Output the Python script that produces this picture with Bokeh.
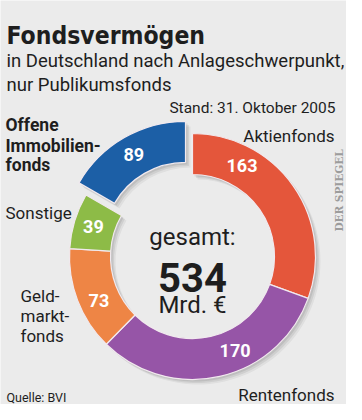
import math
from bokeh.plotting import figure
from bokeh.models import Range1d, ColumnDataSource
from bokeh.core.properties import value
from bokeh.embed import file_html
from bokeh.resources import INLINE

# ---- data ----
categories = ["Aktienfonds", "Rentenfonds", "Geldmarktfonds", "Sonstige", "Offene Immobilienfonds"]
values = [163, 170, 73, 39, 89]
total_label = "534"
title = "Fondsvermögen"
subtitle = ["in Deutschland nach Anlageschwerpunkt,", "nur Publikumsfonds"]
stand = "Stand: 31. Oktober 2005"
source_txt = "Quelle: BVI"

# ---- style ----
colors = ["#e4563b", "#9655a7", "#ee8545", "#8dbb47", "#1c5fa6"]
explode = [0, 0, 0, 0, 14]
label_frac = [0.26, 0.40, 0.41, 0.5, 0.5]
BG = "#ebebeb"
TXT = "#1e1e1e"
FONT = "Roboto"
W, H = 346, 404
OX, OY = 8, 8

def X(rx):
    return rx - OX

def Y(ry):
    return H - (ry - OY)

p = figure(width=W, height=H, x_range=Range1d(0, W), y_range=Range1d(0, H),
           output_backend="svg", toolbar_location=None, min_border=0)
p.axis.visible = False
p.grid.visible = False
p.outline_line_color = None
p.background_fill_color = BG
p.border_fill_color = BG

cx, cy = X(200), Y(264)
r_in, r_out = 82, 123

tot = sum(values)
xs, ys, st, en, lx, ly = [], [], [], [], [], []
acc = 0.0
for v, e, f in zip(values, explode, label_frac):
    t0 = acc / tot * 360.0
    t1 = (acc + v) / tot * 360.0
    acc += v
    mid = math.radians((t0 + t1) / 2)
    ox = e * math.sin(mid)
    oy = e * math.cos(mid)
    xs.append(cx + ox)
    ys.append(cy + oy)
    st.append(math.radians(90 - t0))
    en.append(math.radians(90 - t1))
    la = math.radians(t0 + f * (t1 - t0))
    rl = (r_in + r_out) / 2 + 1
    lx.append(cx + ox + rl * math.sin(la))
    ly.append(cy + oy + rl * math.cos(la))

src = ColumnDataSource(dict(x=xs, y=ys, start=st, end=en, color=colors,
                            lx=lx, ly=ly, lab=[str(v) for v in values]))

# soft shadow
for off, a in [(5, 0.05), (3.5, 0.07), (2, 0.08)]:
    sx = [x + off for x in xs]
    sy = [y - off for y in ys]
    p.annular_wedge(x=sx, y=sy, inner_radius=r_in, outer_radius=r_out,
                    start_angle=st, end_angle=en, direction="clock",
                    fill_color="black", fill_alpha=a, line_color=None)

p.annular_wedge(x="x", y="y", inner_radius=r_in, outer_radius=r_out,
                start_angle="start", end_angle="end", direction="clock",
                source=src, fill_color="color", line_color="#f1e9ee", line_width=1.2)

p.text(x="lx", y="ly", text="lab", source=src, text_color="white",
       text_font=value(FONT), text_font_style="bold",
       text_font_size="18px", text_align="center", text_baseline="middle")

def T(rx, ry, s, size, bold=False, align="left", color=TXT, font=FONT, angle=0.0,
      baseline="alphabetic"):
    p.text(x=[X(rx)], y=[Y(ry)], text=[s], text_color=color,
           text_font=value(font), text_font_style="bold" if bold else "normal",
           text_font_size=f"{size}px", text_align=align, text_baseline=baseline, angle=angle)

T(14, 43, title, 24.5, bold=True, font="DejaVu Sans Condensed")
T(14, 68, subtitle[0], 18.5)
T(14, 92, subtitle[1], 18.5)
T(343, 115, stand, 15.5, align="right")

T(13, 132, "Offene", 17.5, bold=True)
T(13, 153, "Immobilien-", 17.5, bold=True)
T(13, 172, "fonds", 17.5, bold=True)
T(13, 220, categories[3], 17)
T(28, 303, "Geld-", 17)
T(28, 323, "markt-", 17)
T(28, 343, "fonds", 17)
T(342, 143, categories[0], 17, align="right")
T(342, 402, categories[1], 17, align="right")
T(14, 405, source_txt, 12.5)

T(200, 244, "gesamt:", 24, align="center")
T(200, 285, total_label, 40, bold=True, align="center")
T(200, 312, "Mrd. €", 24, align="center")

T(346, 198, "DER SPIEGEL", 10.5, bold=True, align="center", color="#9c9c9c",
  font="DejaVu Serif", angle=math.pi / 2, baseline="middle")

open("out.html", "w").write(file_html(p, INLINE))
